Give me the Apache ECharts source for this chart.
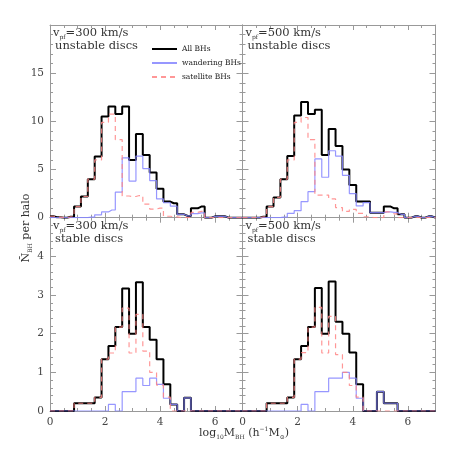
<!DOCTYPE html>
<html>
<head>
<meta charset="utf-8">
<script src="https://cdn.jsdelivr.net/npm/echarts@6/dist/echarts.min.js"></script>
<style>
html,body{margin:0;padding:0;background:#fff;}
#chart{width:460px;height:460px;}
</style>
</head>
<body>
<div id="chart"></div>
<script>
// bin centres, log10 M_BH (bin width 0.25)
var bins = [0,0.25,0.5,0.75,1,1.25,1.5,1.75,2,2.25,2.5,2.75,3,3.25,3.5,3.75,4,4.25,4.5,4.75,5,5.25,5.5,5.75,6,6.25,6.5,6.75,7];

// v_pf = 300 km/s, unstable discs
var allU300  = [0.15,0.05,0,0.1,1.15,2.2,4.0,6.35,10.5,11.55,10.75,11.55,6.0,8.7,6.5,4.7,3.0,1.67,1.5,0.35,0.18,0.97,1.15,0,0.14,0.14,0,0,0];
var wandU300 = [0,0,0,0,0,0,0.05,0.3,0.6,0.8,2.65,6.2,3.8,6.4,5.1,3.85,1.95,1.55,1.2,0.35,0.18,0.42,0.5,0,0.14,0.14,0,0,0];
var satU300  = [0.15,0.05,0,0.1,1.15,2.2,4.0,6.0,9.9,10.75,8.1,2.25,2.2,2.3,1.4,0.9,1.0,0.15,0.1,0,0,0.55,0.65,0,0,0,0,0,0];

// v_pf = 500 km/s, unstable discs
var allU500  = [0,0,0,0.1,1.15,2.1,4.0,6.4,10.6,12.0,10.75,11.2,6.5,9.2,7.45,5.0,3.4,1.67,1.67,0.52,0.52,1.15,0.97,0.35,0,0.14,0,0.14,0];
var wandU500 = [0,0,0,0,0,0,0.05,0.45,0.73,1.67,2.7,6.1,4.2,6.95,6.4,4.4,2.5,1.22,1.57,0.52,0.52,0.6,0.55,0.35,0,0.14,0,0.14,0];
var satU500  = [0,0,0,0.1,1.15,2.1,4.0,6.0,9.9,10.4,8.1,2.35,2.35,1.95,1.05,0.65,0.87,0.45,0.1,0,0,0.6,0.4,0,0,0,0,0,0];

// v_pf = 300 km/s, stable discs
var allS300  = [0,0,0,0,0.2,0.2,0.2,0.35,1.34,1.68,2.17,3.17,2.0,3.33,2.17,1.84,1.34,0.69,0.17,0,0.34,0,0,0,0,0,0,0,0];
var wandS300 = [0,0,0,0,0,0,0,0,0,0.17,0,0.5,0.5,0.85,0.66,0.85,0.69,0.33,0.17,0,0.34,0,0,0,0,0,0,0,0];
var satS300  = [0,0,0,0,0.2,0.2,0.2,0.35,1.34,1.5,2.17,2.66,1.5,2.5,1.55,1.0,0.67,0.36,0,0,0,0,0,0,0,0,0,0,0];

// v_pf = 500 km/s, stable discs
var allS500  = [0,0,0,0,0.2,0.2,0.2,0.35,1.34,1.68,2.17,3.18,2.0,3.35,2.31,2.0,1.51,0.69,0,0,0.5,0.2,0.2,0,0,0,0,0,0];
var wandS500 = [0,0,0,0,0,0,0,0,0,0.17,0,0.5,0.5,0.85,0.85,1.0,0.85,0.33,0,0,0.5,0.2,0.2,0,0,0,0,0,0];
var satS500  = [0,0,0,0,0.2,0.2,0.2,0.35,1.34,1.51,2.17,2.68,1.5,2.45,1.46,1.0,0.66,0.36,0,0,0,0,0,0,0,0,0,0,0];

var xTicks = [0,2,4,6];
var yTicksTop = [0,5,10,15];
var yTicksBottom = [0,1,2,3,4];

var panelVel = ['300','500','300','500'];
var panelDisc = ['unstable discs','unstable discs','stable discs','stable discs'];

var panels = [
	{all: allU300, wand: wandU300, sat: satU300},
	{all: allU500, wand: wandU500, sat: satU500},
	{all: allS300, wand: wandS300, sat: satS300},
	{all: allS500, wand: wandS500, sat: satS500}
];

var FONT = 'DejaVu Serif';
var FRAME = '#999';

var grids = [
	{left: 50,    top: 25,    width: 192.5, height: 192.7},
	{left: 242.5, top: 25,    width: 193,   height: 192.7},
	{left: 50,    top: 217.7, width: 192.5, height: 193.3},
	{left: 242.5, top: 217.7, width: 193,   height: 193.3}
];

function pairs(vals){
	return bins.map(function(b, i){ return [b, vals[i]]; });
}

function xAx(g, top){
	return {
		type: 'value', gridIndex: g, min: 0, max: 7, interval: xTicks[1] - xTicks[0],
		position: top ? 'top' : 'bottom',
		axisLine: {show: true, onZero: false, lineStyle: {color: FRAME, width: 1}},
		axisTick: {show: true, inside: true, length: 5, lineStyle: {color: FRAME}},
		minorTick: {show: true, splitNumber: 4, length: 3, lineStyle: {color: FRAME}},
		splitLine: {show: false},
		axisLabel: {
			show: !top && g >= 2, showMaxLabel: false, margin: 6,
			color: '#444', fontFamily: FONT, fontSize: 10.5
		}
	};
}

function yAx(g, right){
	var topRow = g < 2;
	var ticks = topRow ? yTicksTop : yTicksBottom;
	return {
		type: 'value', gridIndex: g, min: 0, max: topRow ? 20 : 5, interval: ticks[1] - ticks[0],
		position: right ? 'right' : 'left',
		axisLine: {show: true, onZero: false, lineStyle: {color: FRAME, width: 1}},
		axisTick: {show: true, inside: true, length: 6, lineStyle: {color: FRAME}},
		minorTick: {show: true, splitNumber: 5, length: 3, lineStyle: {color: FRAME}},
		splitLine: {show: false},
		axisLabel: {
			show: !right && (g % 2 === 0), showMaxLabel: false, margin: 6,
			color: '#444', fontFamily: FONT, fontSize: 10.5
		}
	};
}

var xAxes = [], yAxes = [], series = [], graphics = [];
for (var t = 0; t < 2; t++) {
	for (var g = 0; g < 4; g++) {
		xAxes.push(xAx(g, t === 1));
		yAxes.push(yAx(g, t === 1));
	}
}

panels.forEach(function(p, g){
	series.push({
		name: 'All BHs', type: 'line', step: 'middle', xAxisIndex: g, yAxisIndex: g,
		symbol: 'none', data: pairs(p.all), z: 2,
		lineStyle: {color: '#000', width: 2}, itemStyle: {color: '#000'}
	});
	series.push({
		name: 'wandering BHs', type: 'line', step: 'middle', xAxisIndex: g, yAxisIndex: g,
		symbol: 'none', data: pairs(p.wand), z: 3,
		lineStyle: {color: '#8585ff', width: 1.2, opacity: 0.85}, itemStyle: {color: '#8585ff'}
	});
	series.push({
		name: 'satellite BHs', type: 'line', step: 'middle', xAxisIndex: g, yAxisIndex: g,
		symbol: 'none', data: pairs(p.sat), z: 4,
		lineStyle: {color: '#ff8585', width: 1.2, type: [5, 4], opacity: 0.85}, itemStyle: {color: '#ff8585'}
	});

	var gr = grids[g];
	graphics.push({
		type: 'text', x: gr.left + 3, y: gr.top + 8.5,
		style: {
			text: '{a|v}{s|pf}{a|=' + panelVel[g] + ' km/s}',
			verticalAlign: 'middle', fill: '#333',
			rich: {
				a: {fontFamily: FONT, fontSize: 11.5, lineHeight: 14, fill: '#333'},
				s: {fontFamily: FONT, fontSize: 6, lineHeight: 7, verticalAlign: 'bottom', fill: '#333'}
			}
		}
	});
	graphics.push({
		type: 'text', x: gr.left + 5, y: gr.top + 21.5,
		style: {
			text: panelDisc[g], verticalAlign: 'middle', fill: '#333',
			fontFamily: FONT, fontSize: 11.5
		}
	});
});

// axis titles
graphics.push({
	type: 'text', x: 26, y: 228, rotation: Math.PI / 2,
	style: {
		text: '{a|N\u0304}{s|BH}{a| per halo}',
		align: 'center', verticalAlign: 'middle', fill: '#333',
		rich: {
			a: {fontFamily: FONT, fontSize: 11, lineHeight: 14, fill: '#333'},
			s: {fontFamily: FONT, fontSize: 6, lineHeight: 7, verticalAlign: 'bottom', fill: '#333'}
		}
	}
});
graphics.push({
	type: 'text', x: 244, y: 433,
	style: {
		text: '{a|log}{s|10}{a|M}{s|BH}{a| (h}{p|\u22121}{a|M}{s|\u2299}{a|)}',
		align: 'center', verticalAlign: 'middle', fill: '#333',
		rich: {
			a: {fontFamily: FONT, fontSize: 11, lineHeight: 14, fill: '#333'},
			s: {fontFamily: FONT, fontSize: 6, lineHeight: 7, verticalAlign: 'bottom', fill: '#333'},
			p: {fontFamily: FONT, fontSize: 6, lineHeight: 7, verticalAlign: 'top', fill: '#333'}
		}
	}
});

var myChart = echarts.init(document.getElementById('chart'));
myChart.setOption({
	animation: false,
	backgroundColor: '#fff',
	grid: grids,
	xAxis: xAxes,
	yAxis: yAxes,
	legend: {
		data: ['All BHs', 'wandering BHs', 'satellite BHs'],
		orient: 'vertical', left: 146, top: 40,
		itemWidth: 25, itemHeight: 8, itemGap: 6,
		selectedMode: false,
		itemStyle: {opacity: 0},
		textStyle: {fontFamily: FONT, fontSize: 7.5, color: '#222'}
	},
	series: series,
	graphic: graphics
});
</script>
</body>
</html>
